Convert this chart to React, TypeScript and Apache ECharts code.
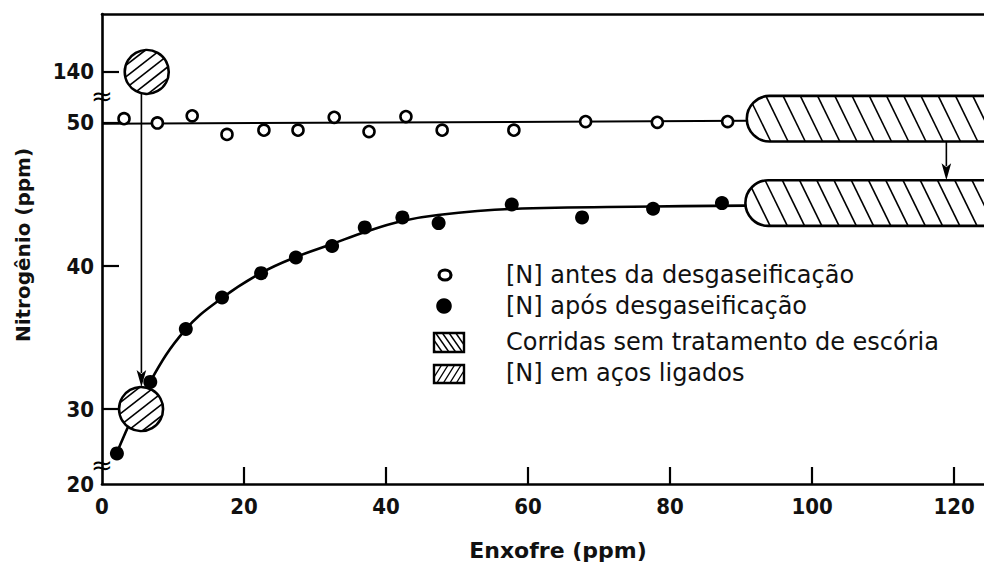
import React, { useEffect, useRef } from "react";
import * as echarts from "echarts";

// Enxofre (ppm) tick values
const X_TICKS = [0, 20, 40, 60, 80, 100, 120];
// Nitrogênio (ppm) tick labels; 20 and 140 sit beyond the scale breaks
const Y_TICK_LABELS = [20, 30, 40, 50, 140];
const Y_TICKS = [30, 40, 50, 140];

// [N] antes da desgaseificação
const BEFORE_S = [3.1, 7.8, 12.7, 17.6, 22.8, 27.6, 32.7, 37.6, 42.8, 47.9, 58.0, 68.1, 78.2, 88.1];
const BEFORE_N = [50.3, 50.0, 50.5, 49.2, 49.5, 49.5, 50.4, 49.4, 50.45, 49.5, 49.5, 50.1, 50.05, 50.1];
// [N] após desgaseificação
const AFTER_S = [2.1, 6.8, 11.8, 16.9, 22.4, 27.3, 32.4, 37.0, 42.3, 47.4, 57.7, 67.6, 77.6, 87.3];
const AFTER_N = [26.9, 31.9, 35.6, 37.8, 39.5, 40.6, 41.4, 42.7, 43.4, 43.0, 44.3, 43.4, 44.0, 44.4];
// level line through the "antes" points
const BEFORE_LINE_S = [0, 90.8];
const BEFORE_LINE_N = [49.95, 50.15];
// smooth curve through the "após" points
const AFTER_CURVE_S = [2.07, 6.76, 11.69, 16.9, 22.39, 27.32, 32.39, 37.04, 42.25, 47.32, 57.75, 77.61, 90.56];
const AFTER_CURVE_N = [26.92, 31.89, 35.52, 37.76, 39.51, 40.63, 41.54, 42.38, 43.15, 43.57, 43.99, 44.16, 44.22];
// Corridas sem tratamento de escória: bands starting at these S values
const SLAG_S = [90.8, 90.6];
const SLAG_N = [50.3, 44.4];
// [N] em aços ligados
const ALLOY_S = [6.3, 5.5];
const ALLOY_N = [140, 30];
// vertical arrows: alloy drop and slag-band drop
const ARROW_S = [5.55, 118.9];

// broken nitrogen scale: axis units equal ppm between the cuts
const Y_MIN = 24.76;
const Y_MAX = 57.62;
const Y_TOP_SEGMENT = 53.57;
const BREAK_MARKS = [26.1, 51.9];
const toAxis = (n: number) => {
  if (n >= 100) return Y_TOP_SEGMENT + (n - 140) * 0.05;
  if (n <= 20) return Y_MIN;
  if (n < 26) return Y_MIN + ((n - 20) * (26 - Y_MIN)) / 6;
  return n;
};
const yLabelFor = (v: number) => {
  const hit = Y_TICK_LABELS.find((n) => Math.abs(toAxis(n) - v) < 0.01);
  return hit === undefined ? "" : String(hit);
};

const INK = "#000";
const TICK_FONT = "'DejaVu Sans Condensed', 'DejaVu Sans', sans-serif";
const TEXT_FONT = "'DejaVu Sans', Verdana, sans-serif";

type Range = [number, number] | null;
const linRange = (p: number, d: number, lo: number, hi: number): Range => {
  if (Math.abs(d) < 1e-9) return p >= lo && p <= hi ? [-1e9, 1e9] : null;
  const a = (lo - p) / d;
  const b = (hi - p) / d;
  return [Math.min(a, b), Math.max(a, b)];
};
const both = (a: Range, b: Range): Range => {
  if (!a || !b) return null;
  const lo = Math.max(a[0], b[0]);
  const hi = Math.min(a[1], b[1]);
  return lo <= hi ? [lo, hi] : null;
};
const either = (a: Range, b: Range): Range => {
  if (!a) return b;
  if (!b) return a;
  return [Math.min(a[0], b[0]), Math.max(a[1], b[1])];
};
const circleRange = (px: number, py: number, dx: number, dy: number, cx: number, cy: number, r: number): Range => {
  const ox = px - cx;
  const oy = py - cy;
  const b = ox * dx + oy * dy;
  const c = ox * ox + oy * oy - r * r;
  const disc = b * b - c;
  if (disc < 0) return null;
  const s = Math.sqrt(disc);
  return [-b - s, -b + s];
};

// parallel hatch segments clipped to a convex shape
const hatch = (
  box: [number, number, number, number],
  inside: (px: number, py: number, dx: number, dy: number) => Range,
  angleDeg: number,
  spacing: number
) => {
  const a = (angleDeg * Math.PI) / 180;
  const dx = Math.cos(a);
  const dy = Math.sin(a);
  const nx = -dy;
  const ny = dx;
  const cx = (box[0] + box[2]) / 2;
  const cy = (box[1] + box[3]) / 2;
  const half = Math.hypot(box[2] - box[0], box[3] - box[1]) / 2;
  const segs: number[][] = [];
  for (let s = -Math.floor(half / spacing) * spacing; s <= half; s += spacing) {
    const px = cx + s * nx;
    const py = cy + s * ny;
    const r = inside(px, py, dx, dy);
    if (r && r[1] - r[0] > 1) segs.push([px + r[0] * dx, py + r[0] * dy, px + r[1] * dx, py + r[1] * dy]);
  }
  return segs;
};
const segLines = (segs: number[][], width: number) =>
  segs.map((g) => ({
    type: "line",
    shape: { x1: g[0], y1: g[1], x2: g[2], y2: g[3] },
    style: { stroke: INK, lineWidth: width },
  }));

const rectHatch = (x: number, y: number, w: number, h: number, angle: number, spacing: number) =>
  hatch(
    [x, y, x + w, y + h],
    (px, py, dx, dy) => both(linRange(px, dx, x, x + w), linRange(py, dy, y, y + h)),
    angle,
    spacing
  );

const legendRows = [
  { y: 275, text: "[N] antes da desgaseificação" },
  { y: 306, text: "[N] após desgaseificação" },
  { y: 342, text: "Corridas sem tratamento de escória" },
  { y: 373, text: "[N] em aços ligados" },
];

const buildOption = () => {
  const swatchX = 434;
  const swatchW = 30;
  const legend: any[] = [
    {
      type: "ellipse",
      shape: { cx: 445, cy: legendRows[0].y, rx: 6, ry: 5 },
      style: { fill: "#fff", stroke: INK, lineWidth: 3.2 },
    },
    { type: "circle", shape: { cx: 444, cy: legendRows[1].y, r: 7.8 }, style: { fill: INK } },
    ...segLines(rectHatch(swatchX, 333, swatchW, 19, 55, 5.5), 1.4),
    {
      type: "rect",
      shape: { x: swatchX, y: 333, width: swatchW, height: 19 },
      style: { fill: "none", stroke: INK, lineWidth: 2.4 },
    },
    ...segLines(rectHatch(swatchX, 365, swatchW, 18, -58, 5.5), 1.4),
    {
      type: "rect",
      shape: { x: swatchX, y: 365, width: swatchW, height: 18 },
      style: { fill: "none", stroke: INK, lineWidth: 2.4 },
    },
    ...legendRows.map((r) => ({
      type: "text",
      x: 506,
      y: r.y,
      style: {
        text: r.text,
        fontFamily: TEXT_FONT,
        fontSize: 24,
        fill: "#111",
        verticalAlign: "middle",
        align: "left",
      },
    })),
  ];

  const titles: any[] = [
    {
      type: "text",
      x: 558,
      y: 550,
      style: {
        text: "Enxofre (ppm)",
        fontFamily: TEXT_FONT,
        fontWeight: "bold",
        fontSize: 22,
        fill: "#111",
        align: "center",
        verticalAlign: "middle",
      },
    },
    {
      type: "text",
      x: 23,
      y: 245,
      rotation: Math.PI / 2,
      style: {
        text: "Nitrogênio (ppm)",
        fontFamily: TEXT_FONT,
        fontWeight: "bold",
        fontSize: 20,
        fill: "#111",
        align: "center",
        verticalAlign: "middle",
      },
    },
  ];

  const axisLine = { show: true, onZero: false, lineStyle: { color: INK, width: 2.6 } };
  const tickLabel = {
    fontFamily: TICK_FONT,
    fontWeight: "bold",
    fontSize: 22,
    color: "#111",
  };

  return {
    animation: false,
    backgroundColor: "#fff",
    grid: { left: 102, right: 0, top: 14, bottom: 78, containLabel: false },
    xAxis: [
      {
        type: "value",
        min: 0,
        max: 124.2,
        position: "bottom",
        axisLine,
        axisTick: {
          show: true,
          inside: true,
          length: 17,
          customValues: X_TICKS.filter((v) => v > 0),
          lineStyle: { color: INK, width: 2.2 },
        },
        axisLabel: { ...tickLabel, customValues: X_TICKS, margin: 11 },
        splitLine: { show: false },
      },
      {
        type: "value",
        min: 0,
        max: 124.2,
        position: "top",
        axisLine,
        axisTick: { show: false },
        axisLabel: { show: false },
        splitLine: { show: false },
      },
    ],
    yAxis: {
      type: "value",
      min: Y_MIN,
      max: Y_MAX,
      axisLine,
      axisTick: {
        show: true,
        inside: true,
        length: 17,
        customValues: Y_TICKS.map(toAxis),
        lineStyle: { color: INK, width: 2.2 },
      },
      axisLabel: {
        ...tickLabel,
        customValues: Y_TICK_LABELS.map(toAxis),
        formatter: (v: number) => yLabelFor(v),
        margin: 8,
      },
      splitLine: { show: false },
    },
    graphic: [...legend, ...titles],
    series: [
      {
        type: "line",
        name: "nível antes",
        data: BEFORE_LINE_S.map((s, i) => [s, toAxis(BEFORE_LINE_N[i])]),
        symbol: "none",
        lineStyle: { color: INK, width: 2 },
        z: 2,
        silent: true,
      },
      {
        type: "line",
        name: "curva após",
        data: AFTER_CURVE_S.map((s, i) => [s, toAxis(AFTER_CURVE_N[i])]),
        symbol: "none",
        smooth: 0.4,
        lineStyle: { color: INK, width: 2.6 },
        z: 2,
        silent: true,
      },
      {
        type: "custom",
        name: "Corridas sem tratamento de escória",
        data: SLAG_S.map((s, i) => [s, toAxis(SLAG_N[i])]),
        z: 3,
        silent: true,
        renderItem: (params: any, api: any) => {
          const cs = params.coordSys;
          const [xl, cy] = api.coord([api.value(0), api.value(1)]);
          const R = 22.8;
          const xr = cs.x + cs.width + 30;
          const xc = xl + R;
          const segs = hatch(
            [xl, cy - R, xr, cy + R],
            (px, py, dx, dy) =>
              either(
                both(linRange(py, dy, cy - R, cy + R), linRange(px, dx, xc, xr)),
                circleRange(px, py, dx, dy, xc, cy, R)
              ),
            64,
            15.5
          );
          const shape = { x: xl, y: cy - R, width: xr - xl, height: 2 * R, r: [R, 0, 0, R] };
          return {
            type: "group",
            children: [
              { type: "rect", shape, style: { fill: "#fff" } },
              ...segLines(segs, 1.6),
              { type: "rect", shape, style: { fill: "none", stroke: INK, lineWidth: 2.6 } },
            ],
          };
        },
      },
      {
        type: "custom",
        name: "[N] em aços ligados",
        data: ALLOY_S.map((s, i) => [s, toAxis(ALLOY_N[i])]),
        z: 3,
        silent: true,
        renderItem: (params: any, api: any) => {
          const [cx, cy] = api.coord([api.value(0), api.value(1)]);
          const r = 22;
          const segs = hatch(
            [cx - r, cy - r, cx + r, cy + r],
            (px, py, dx, dy) => circleRange(px, py, dx, dy, cx, cy, r - 0.5),
            -38,
            9
          );
          return {
            type: "group",
            children: [
              { type: "circle", shape: { cx, cy, r }, style: { fill: "#fff" } },
              ...segLines(segs, 1.6),
              { type: "circle", shape: { cx, cy, r }, style: { fill: "none", stroke: INK, lineWidth: 2.6 } },
            ],
          };
        },
      },
      {
        type: "scatter",
        name: "[N] antes da desgaseificação",
        data: BEFORE_S.map((s, i) => [s, toAxis(BEFORE_N[i])]),
        symbol: "circle",
        symbolSize: 11,
        itemStyle: { color: "#fff", borderColor: INK, borderWidth: 2.6, opacity: 1 },
        z: 4,
        silent: true,
      },
      {
        type: "scatter",
        name: "[N] após desgaseificação",
        data: AFTER_S.map((s, i) => [s, toAxis(AFTER_N[i])]),
        symbol: "circle",
        symbolSize: 14,
        itemStyle: { color: INK, opacity: 1 },
        z: 4,
        silent: true,
      },
      {
        type: "custom",
        name: "setas",
        data: [
          [ARROW_S[0], toAxis(ALLOY_N[0]), toAxis(ALLOY_N[1]), 21, 22],
          [ARROW_S[1], toAxis(SLAG_N[0]), toAxis(SLAG_N[1]), 22.8, 22.8],
        ],
        z: 5,
        silent: true,
        renderItem: (params: any, api: any) => {
          const [x, y0] = api.coord([api.value(0), api.value(1)]);
          const y1 = api.coord([api.value(0), api.value(2)])[1];
          const ys = y0 + api.value(3);
          const ye = y1 - api.value(4);
          const headL = 17;
          const headW = 4.8;
          return {
            type: "group",
            children: [
              {
                type: "line",
                shape: { x1: x, y1: ys, x2: x, y2: ye - headL + 3 },
                style: { stroke: INK, lineWidth: 1.6 },
              },
              {
                type: "polygon",
                shape: {
                  points: [
                    [x, ye],
                    [x - headW, ye - headL],
                    [x, ye - headL + 4],
                    [x + headW, ye - headL],
                  ],
                },
                style: { fill: INK },
              },
            ],
          };
        },
      },
      {
        type: "custom",
        name: "quebras",
        data: BREAK_MARKS.map((v) => [0, v]),
        z: 6,
        silent: true,
        renderItem: (params: any, api: any) => {
          const [x, y] = api.coord([api.value(0), api.value(1)]);
          return {
            type: "text",
            x,
            y,
            style: {
              text: "≈",
              fontFamily: TEXT_FONT,
              fontSize: 26,
              fill: INK,
              align: "center",
              verticalAlign: "middle",
            },
          };
        },
      },
    ],
  };
};

export default function App() {
  const ref = useRef<HTMLDivElement>(null);
  useEffect(() => {
    if (!ref.current) return;
    const chart = echarts.init(ref.current, null, { renderer: "svg" });
    chart.setOption(buildOption() as any);
    return () => chart.dispose();
  }, []);
  return (
    <div
      ref={ref}
      style={{
        position: "fixed",
        left: 0,
        top: 0,
        width: 984,
        height: 562,
        background: "#fff",
        overflow: "hidden",
      }}
    />
  );
}
